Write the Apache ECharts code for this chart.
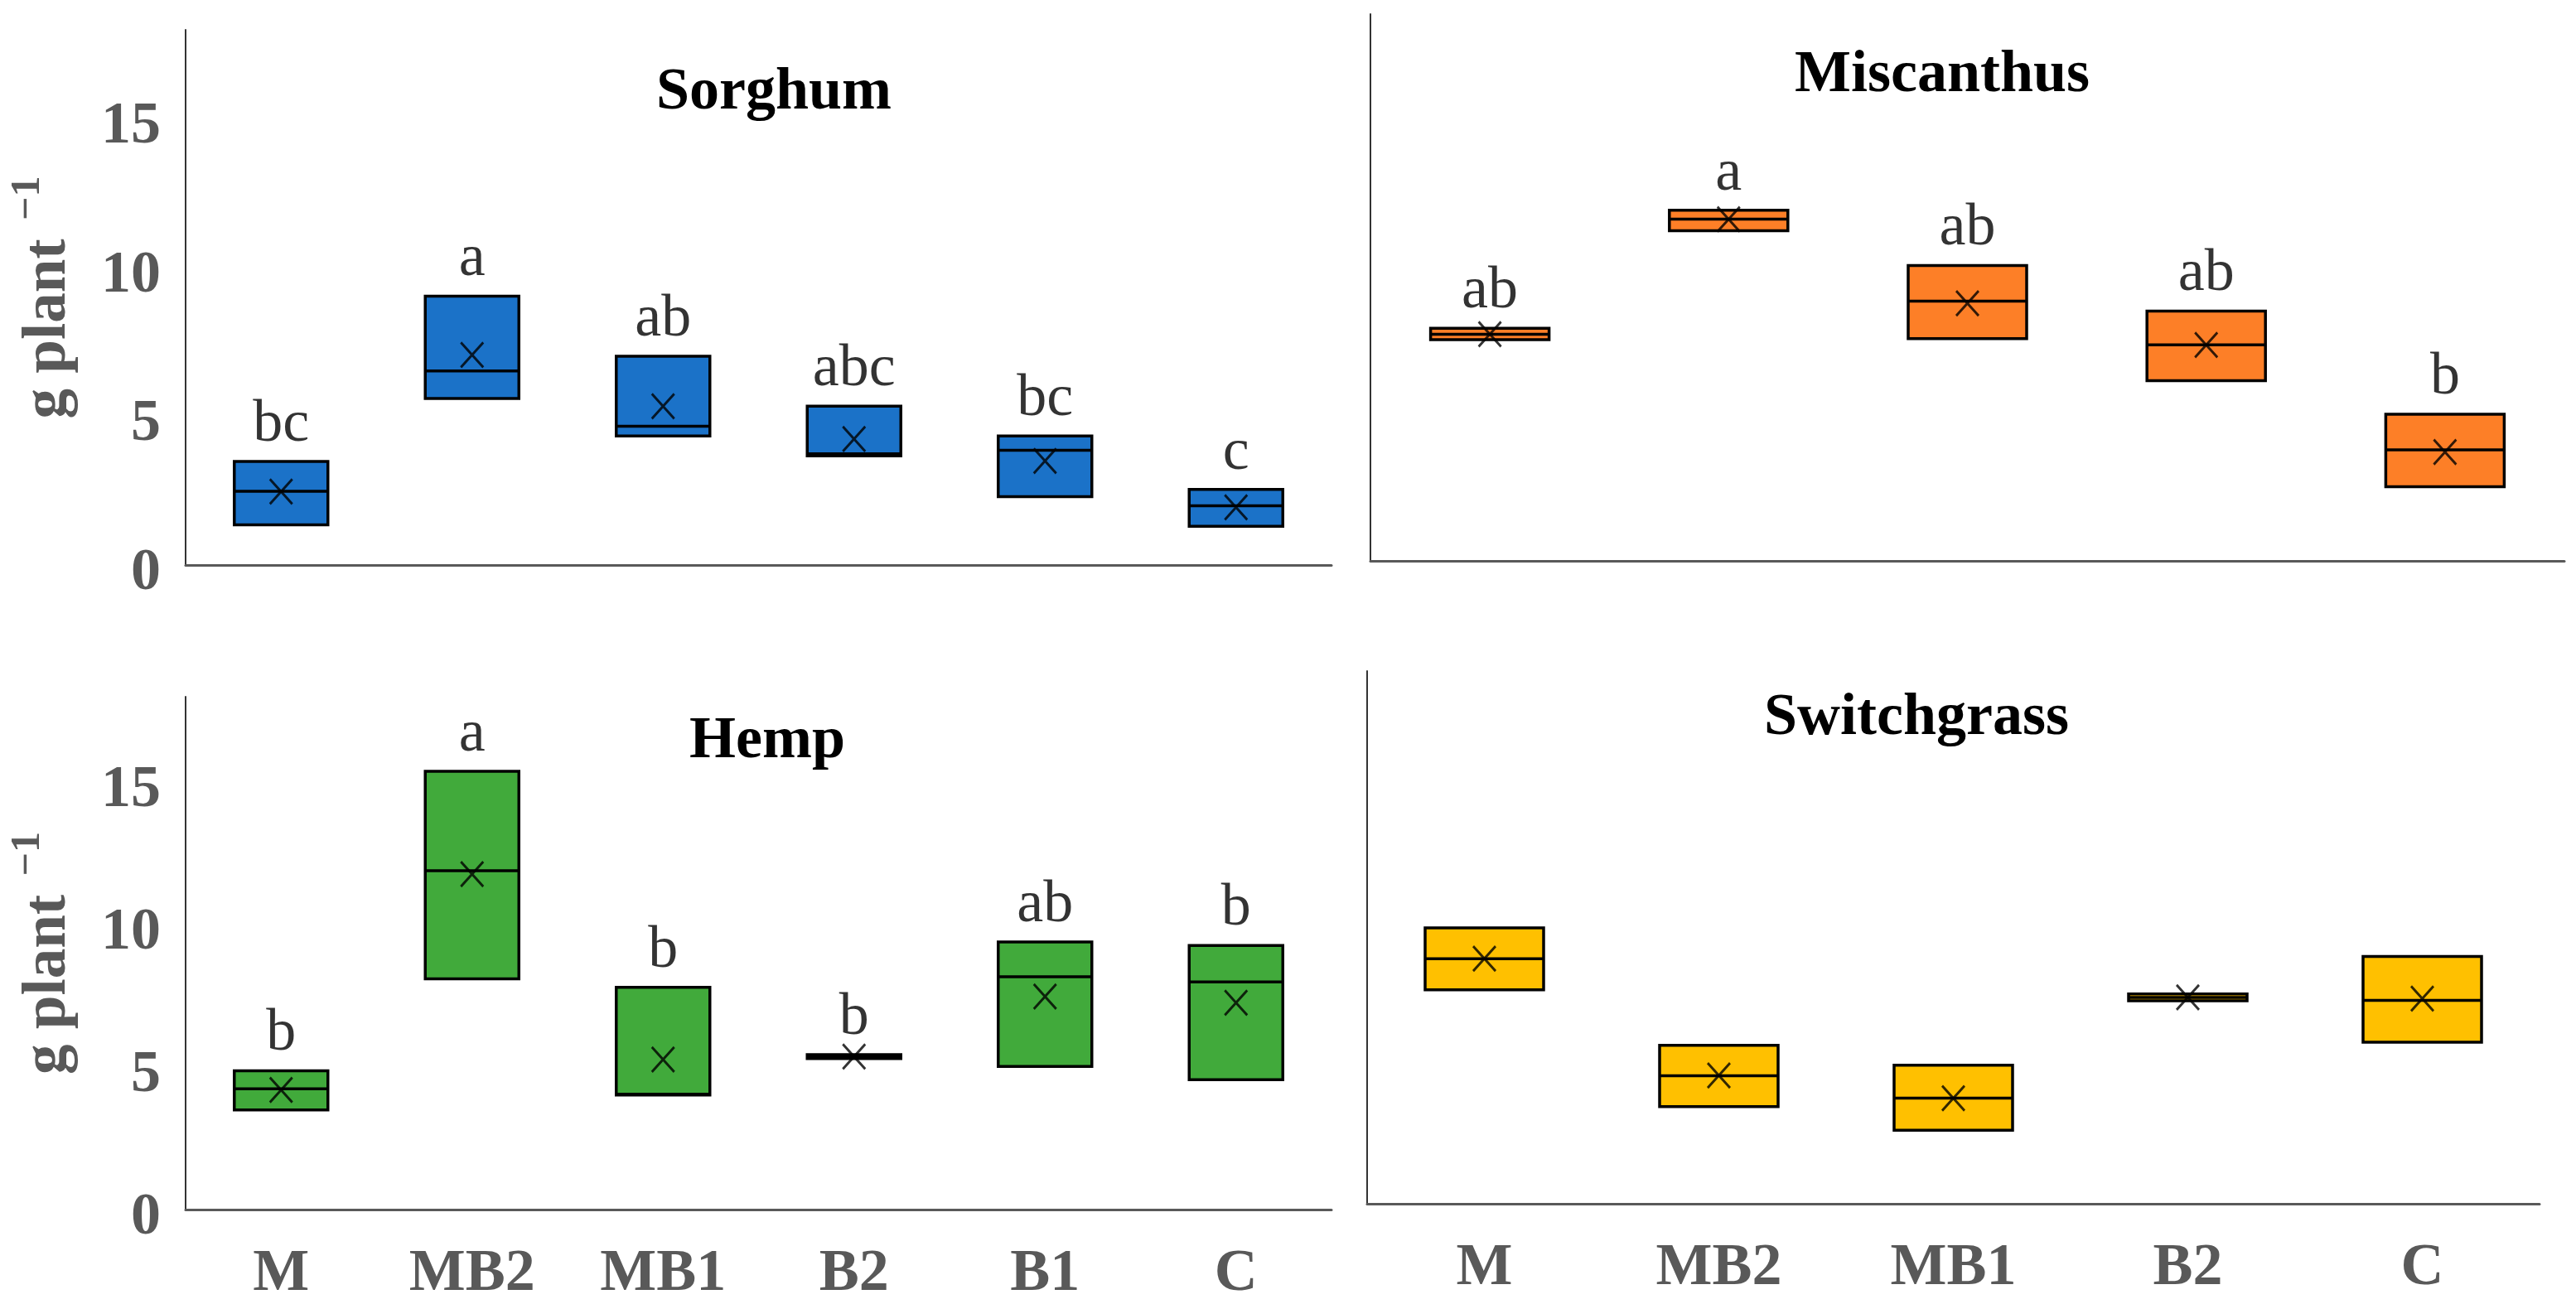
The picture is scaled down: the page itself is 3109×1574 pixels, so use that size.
<!DOCTYPE html>
<html>
<head>
<meta charset="utf-8">
<script src="https://cdn.jsdelivr.net/npm/echarts@6/dist/echarts.min.js"></script>
<style>
html,body{margin:0;padding:0;background:#fff;}
#chart{width:3109px;height:1574px;}
</style>
</head>
<body>
<div id="chart"></div>
<script>
// ---------- DATA ----------
const cats6 = ['M', 'MB2', 'MB1', 'B2', 'B1', 'C'];
const cats5 = ['M', 'MB2', 'MB1', 'B2', 'C'];
const yTicks = [0, 5, 10, 15];

const sorghumQ1     = [1.35, 5.60, 4.34, 3.67, 2.30, 1.30];
const sorghumMedian = [2.48, 6.53, 4.67, 3.74, 3.86, 1.99];
const sorghumQ3     = [3.48, 9.04, 7.02, 5.34, 4.34, 2.54];
const sorghumMean   = [2.47, 7.07, 5.34, 4.24, 3.50, 1.94];
const sorghumLetters = ['bc', 'a', 'ab', 'abc', 'bc', 'c'];

const miscanthusQ1     = [7.44, 11.10, 7.47, 6.06, 2.49];
const miscanthusMedian = [7.62, 11.49, 8.73, 7.26, 3.73];
const miscanthusQ3     = [7.82, 11.79, 9.93, 8.40, 4.93];
const miscanthusMean   = [7.62, 11.49, 8.66, 7.26, 3.66];
const miscanthusLetters = ['ab', 'a', 'ab', 'ab', 'b'];

const hempQ1     = [3.50, 8.10, 4.02, 5.30, 5.02, 4.56];
const hempMedian = [4.24, 11.89, 4.05, 5.37, 8.17, 7.99];
const hempQ3     = [4.87, 15.38, 7.80, 5.44, 9.39, 9.27];
const hempMean   = [4.20, 11.77, 5.27, 5.37, 7.48, 7.26];
const hempLetters = ['b', 'a', 'b', 'b', 'ab', 'b'];

const switchgrassQ1     = [7.51, 3.41, 2.58, 7.12, 5.67];
const switchgrassMedian = [8.60, 4.49, 3.71, 7.24, 7.14];
const switchgrassQ3     = [9.68, 5.56, 4.86, 7.36, 8.68];
const switchgrassMean   = [8.60, 4.50, 3.70, 7.24, 7.20];

// ---------- STYLE ----------
const SERIF = '"Liberation Serif", "Times New Roman", serif';
const GRAY = '#595959';
const panels = [
  {name: 'Sorghum', cats: cats6, q1: sorghumQ1, med: sorghumMedian, q3: sorghumQ3, mean: sorghumMean, letters: sorghumLetters,
   color: '#1b72c8', grid: {left: 224, top: 36, width: 1383, height: 646}, max: 18, yLabels: true, xLabels: false, boxW: 113,
   title: {x: 934, y: 112}},
  {name: 'Miscanthus', cats: cats5, q1: miscanthusQ1, med: miscanthusMedian, q3: miscanthusQ3, mean: miscanthusMean, letters: miscanthusLetters,
   color: '#fd7f27', grid: {left: 1654, top: 17, width: 1441, height: 660}, max: 660 / 35.9, yLabels: false, xLabels: false, boxW: 143,
   title: {x: 2344, y: 91}},
  {name: 'Hemp', cats: cats6, q1: hempQ1, med: hempMedian, q3: hempQ3, mean: hempMean, letters: hempLetters,
   color: '#41aa3b', grid: {left: 224, top: 841, width: 1383, height: 619}, max: 18, yLabels: true, xLabels: true, boxW: 113,
   title: {x: 926, y: 895}},
  {name: 'Switchgrass', cats: cats5, q1: switchgrassQ1, med: switchgrassMedian, q3: switchgrassQ3, mean: switchgrassMean, letters: null,
   color: '#ffc000', grid: {left: 1650, top: 810, width: 1415, height: 643}, max: 643 / 34.4, yLabels: false, xLabels: true, boxW: 143,
   title: {x: 2313, y: 867}}
];

const grid = [], xAxis = [], yAxis = [], series = [], graphic = [];
panels.forEach((p, i) => {
  grid.push(Object.assign({containLabel: false}, p.grid));
  xAxis.push({
    type: 'category', gridIndex: i, data: p.cats, boundaryGap: true,
    axisLine: {show: true, lineStyle: {color: GRAY, width: 3}},
    axisTick: {show: false},
    axisLabel: {show: p.xLabels, color: GRAY, fontFamily: SERIF, fontWeight: 'bold', fontSize: 72, margin: 42},
    splitLine: {show: false}
  });
  yAxis.push({
    type: 'value', gridIndex: i, min: 0, max: p.max, interval: 5,
    axisLine: {show: true, lineStyle: {color: '#333', width: 2}},
    axisTick: {show: false},
    splitLine: {show: false},
    axisLabel: {show: p.yLabels, color: GRAY, fontFamily: SERIF, fontWeight: 'bold', fontSize: 72, margin: 30,
      showMaxLabel: false,
      formatter: v => (yTicks.indexOf(v) >= 0 ? '{t|' + v + '}' : ''),
      rich: {t: {color: GRAY, fontFamily: SERIF, fontWeight: 'bold', fontSize: 72, padding: [20, 0, 0, 0]}}},
    name: p.yLabels ? '{base|g plant }{sup|\u22121}' : '',
    nameLocation: 'middle', nameGap: 128, nameRotate: 90,
    nameTextStyle: {color: GRAY, fontFamily: SERIF, fontWeight: 'bold', fontSize: 72,
      rich: {
        base: {color: GRAY, fontFamily: SERIF, fontWeight: 'bold', fontSize: 73, verticalAlign: 'bottom', padding: [14, 0, 0, 0]},
        sup: {color: GRAY, fontFamily: SERIF, fontWeight: 'bold', fontSize: 50, verticalAlign: 'top', padding: [0, 0, 0, 4]}
      }}
  });
  series.push({
    type: 'boxplot', xAxisIndex: i, yAxisIndex: i,
    boxWidth: [p.boxW, p.boxW],
    itemStyle: {color: p.color, borderColor: '#000', borderWidth: 3.5},
    emphasis: {disabled: true},
    data: p.q1.map((q, k) => [q, q, p.med[k], p.q3[k], p.q3[k]])
  });
  series.push({
    type: 'scatter', xAxisIndex: i, yAxisIndex: i,
    symbol: 'path://M0,0L10,10M10,0L0,10', symbolSize: [27, 30],
    itemStyle: {color: 'rgba(0,0,0,0)', borderColor: '#000', borderWidth: 3},
    data: p.mean, z: 5
  });
  if (p.letters) {
    series.push({
      type: 'scatter', xAxisIndex: i, yAxisIndex: i, symbolSize: 0,
      data: p.q3,
      label: {show: true, position: 'top', distance: 8, color: '#000', fontFamily: SERIF, fontSize: 72,
        formatter: prm => p.letters[prm.dataIndex]},
      z: 6
    });
  }
  graphic.push({
    type: 'text', x: p.title.x, y: p.title.y,
    style: {text: p.name, fill: '#000', font: 'bold 72px ' + SERIF, textAlign: 'center', textVerticalAlign: 'middle'}
  });
});

const chart = echarts.init(document.getElementById('chart'), null, {renderer: 'canvas'});
chart.setOption({
  backgroundColor: '#fff',
  animation: false,
  grid, xAxis, yAxis, series, graphic
});
</script>
</body>
</html>
